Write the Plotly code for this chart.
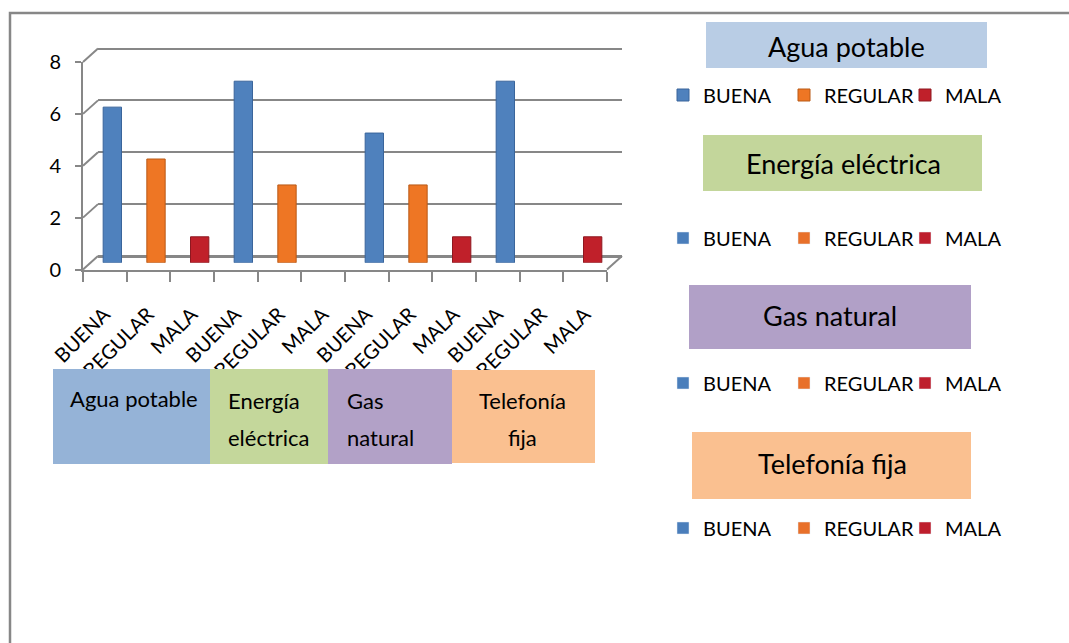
import plotly.graph_objects as go

# ---------------- data ----------------
services = ["Agua potable", "Energía eléctrica", "Gas natural", "Telefonía fija"]
ratings = ["BUENA", "REGULAR", "MALA"]
buena = [6, 7, 5, 7]
regular = [4, 3, 3, 0]
mala = [1, 0, 1, 1]
series = {"BUENA": buena, "REGULAR": regular, "MALA": mala}
y_ticks = [0, 2, 4, 6, 8]

# ---------------- style ----------------
bar_colors = {"BUENA": "#4F81BD", "REGULAR": "#EE7624", "MALA": "#C0202A"}
bar_lines = {"BUENA": "#3A659B", "REGULAR": "#B95A17", "MALA": "#8E1820"}
legend_colors = {"BUENA": "#4A7EBB", "REGULAR": "#E8702A", "MALA": "#BE1E2D"}
bottom_box_colors = ["#95B3D7", "#C4D79B", "#B2A1C7", "#FAC090"]
title_box_colors = ["#B9CDE5", "#C3D69B", "#B1A0C7", "#FAC090"]
FONT = "Lato, Liberation Sans, sans-serif"
GRAY = "#878787"

W, H = 1069, 643
def px(p):
    return p / W
def py(p):
    return 1 - p / H

# front wall geometry (pixels)
FX0, FX1 = 83, 607
FY0, FY1 = 269.5, 62
DX, DY = 15, 13.5          # depth offset of the back wall
n_cat = len(services) * len(ratings)
vmin, vmax = y_ticks[0], y_ticks[-1]
unit_px = (FY0 - FY1) / (vmax - vmin)
PAD = 0.2                  # value padding so the edge grid lines of the back wall stay visible
def front_y(v):
    return FY0 - (v - vmin) * unit_px

fig = go.Figure()

# placeholders so the back-wall and front subplots always exist
for xa, ya in (("x", "y"), ("x3", "y3")):
    fig.add_trace(go.Scatter(x=[None], y=[None], xaxis=xa, yaxis=ya,
                             showlegend=False, hoverinfo="skip"))

# bars (mid depth axes x2/y2)
for ri, r in enumerate(ratings):
    xs = [si * len(ratings) + ri for si in range(len(services))]
    vals = series[r]
    fig.add_trace(go.Bar(
        x=xs, y=vals, name=r, xaxis="x2", yaxis="y2",
        width=0.42, marker=dict(color=bar_colors[r],
                                line=dict(color=bar_lines[r],
                                          width=[1 if v else 0 for v in vals])),
        legend="legend", showlegend=True,
        hovertemplate=r + ": %{y}<extra></extra>",
    ))

# extra legend entries for the other service legends
for li in range(2, len(services) + 1):
    for r in ratings:
        fig.add_trace(go.Bar(
            x=[None], y=[None], name=r, xaxis="x2", yaxis="y2",
            marker=dict(color=legend_colors[r]), legend=f"legend{li}",
            showlegend=True, hoverinfo="skip",
        ))

tick_labels = [r for s in services for r in ratings]

noax = dict(automargin=False)
fig.update_layout(
    width=W, height=H, autosize=False,
    margin=dict(l=0, r=0, t=0, b=0, pad=0),
    paper_bgcolor="white", plot_bgcolor="rgba(0,0,0,0)",
    barmode="overlay",
    font=dict(family=FONT, color="black"),
    # back wall (range padded, domain padded by the same amount of pixels)
    xaxis=dict(domain=[px(FX0 + DX), px(FX1 + DX)], range=[-0.5, n_cat - 0.5],
               anchor="y", showticklabels=False, ticks="", showline=False,
               showgrid=False, zeroline=False, **noax),
    yaxis=dict(domain=[py(FY0 - DY + PAD * unit_px), py(FY1 - DY - PAD * unit_px)],
               range=[vmin - PAD, vmax + PAD],
               anchor="x", tickmode="array", tickvals=y_ticks, showticklabels=False,
               ticks="", showgrid=True, gridcolor=GRAY, gridwidth=2,
               zeroline=True, zerolinecolor=GRAY, zerolinewidth=3,
               showline=False, **noax),
    # mid depth (bars + category labels)
    xaxis2=dict(domain=[px(FX0 + DX / 2), px(FX1 + DX / 2)], range=[-0.5, n_cat - 0.5],
                anchor="y2", tickmode="array", tickvals=list(range(n_cat)),
                ticktext=tick_labels, tickangle=-45, ticks="", showline=False,
                showgrid=False, zeroline=False, ticklabelstandoff=35,
                ticklabelshift=-8,
                tickfont=dict(size=20, family=FONT, color="black"), **noax),
    yaxis2=dict(domain=[py(FY0 - DY / 2), py(FY1 - DY / 2)], range=[vmin, vmax],
                anchor="x2", showticklabels=False, ticks="", showline=False,
                showgrid=False, zeroline=False, **noax),
    # front wall
    xaxis3=dict(domain=[px(FX0), px(FX1)], range=[-0.5, n_cat - 0.5], anchor="y3",
                tickmode="array", tickvals=[i - 0.5 for i in range(n_cat + 1)],
                ticks="outside", ticklen=10, tickwidth=2, tickcolor=GRAY,
                showticklabels=False, showline=True, linecolor=GRAY, linewidth=2,
                showgrid=False, zeroline=False, **noax),
    yaxis3=dict(domain=[py(FY0), py(FY1)], range=[vmin, vmax], anchor="x3",
                tickmode="array", tickvals=y_ticks, ticks="outside", ticklen=6,
                tickwidth=2, tickcolor=GRAY, showline=True, linecolor=GRAY,
                linewidth=2, showgrid=False, zeroline=False, ticklabelstandoff=10,
                tickfont=dict(size=20, family=FONT, color="black"), **noax),
)

# legends (one per service)
legend_rows = [95, 238, 383, 528]
for li, yrow in enumerate(legend_rows, start=1):
    key = "legend" if li == 1 else f"legend{li}"
    fig.update_layout({key: dict(
        orientation="h", x=px(663), y=py(yrow), xanchor="left", yanchor="middle",
        bgcolor="rgba(0,0,0,0)", borderwidth=0, entrywidth=76, entrywidthmode="pixels",
        font=dict(size=20, family=FONT, color="black"), itemclick=False,
        itemdoubleclick=False, traceorder="normal",
    )})

shapes = []
annotations = []
# outer frame
shapes.append(dict(type="rect", xref="paper", yref="paper", x0=px(10), y0=-0.05,
                   x1=1.05, y1=py(13), line=dict(color=GRAY, width=2.5),
                   fillcolor="rgba(0,0,0,0)", layer="below"))

# depth connectors from the front axis ticks to the back wall, and floor edge
for v in y_ticks:
    shapes.append(dict(type="line", xref="paper", yref="paper",
                       x0=px(FX0), y0=py(front_y(v)), x1=px(FX0 + DX), y1=py(front_y(v) - DY),
                       line=dict(color=GRAY, width=2), layer="below"))
shapes.append(dict(type="line", xref="paper", yref="paper",
                   x0=px(FX1), y0=py(front_y(vmin)), x1=px(FX1 + DX), y1=py(front_y(vmin) - DY),
                   line=dict(color=GRAY, width=2), layer="below"))

# bottom category boxes
bottom_boxes = [(53, 210, 369, 464), (210, 328, 369, 464), (328, 452, 369, 464), (452, 595, 370, 463)]
bottom_lines = [["Agua potable"], ["Energía", "eléctrica"], ["Gas", "natural"], ["Telefonía", "fija"]]
bottom_text_pos = [(68, [398], "left"), (226, [400, 437], "left"),
                   (345, [400, 437], "left"), (522, [400, 437], "center")]
for i, (x0, x1, y0, y1) in enumerate(bottom_boxes):
    shapes.append(dict(type="rect", xref="paper", yref="paper", x0=px(x0), x1=px(x1),
                       y0=py(y1), y1=py(y0), fillcolor=bottom_box_colors[i],
                       line=dict(width=0), layer="above"))
    tx, tys, al = bottom_text_pos[i]
    for line_text, ty in zip(bottom_lines[i], tys):
        annotations.append(dict(text=line_text, xref="paper", yref="paper",
                                x=px(tx), y=py(ty), xanchor=al, yanchor="middle",
                                align=al, showarrow=False,
                                font=dict(size=22, family=FONT, color="black")))

# right legend title boxes
title_boxes = [(706, 987, 22, 68), (703, 982, 135, 191), (689, 971, 285, 349), (692, 971, 432, 499)]
title_centers = [(846, 47), (843, 163), (830, 315), (832, 463)]
for i, (x0, x1, y0, y1) in enumerate(title_boxes):
    shapes.append(dict(type="rect", xref="paper", yref="paper", x0=px(x0), x1=px(x1),
                       y0=py(y1), y1=py(y0), fillcolor=title_box_colors[i],
                       line=dict(width=0), layer="above"))
    tx, ty = title_centers[i]
    annotations.append(dict(text=services[i], xref="paper", yref="paper",
                            x=px(tx), y=py(ty), xanchor="center", yanchor="middle",
                            showarrow=False,
                            font=dict(size=27, family=FONT, color="black")))

fig.update_layout(shapes=shapes, annotations=annotations)

fig.write_html("out.html", config={"displayModeBar": False},
               post_script="document.body.style.margin='0';")
